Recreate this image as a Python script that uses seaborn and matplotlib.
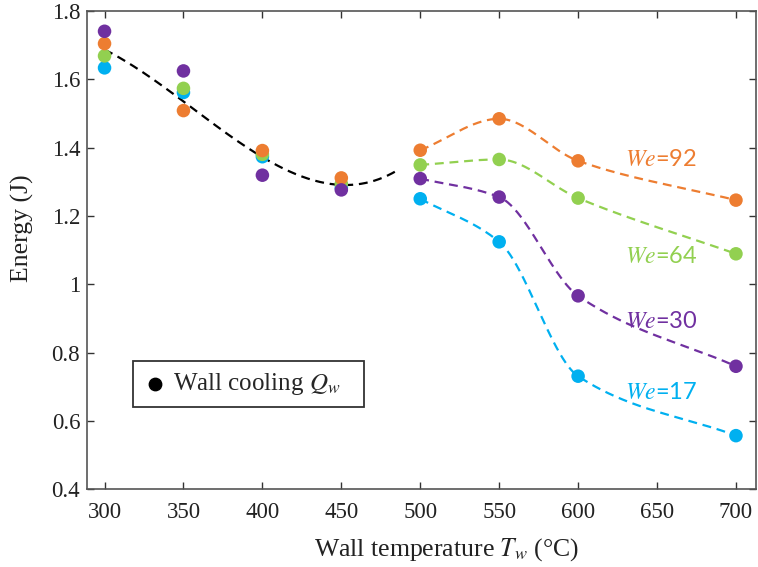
import numpy as np
import pandas as pd
import matplotlib
matplotlib.use("Agg")
import matplotlib.pyplot as plt
import seaborn as sns

# ---- data ----
temps = [300, 350, 400, 450, 500, 550, 600, 700]
we_labels = ["We=92", "We=64", "We=30", "We=17"]
we92 = [1.704, 1.508, 1.391, 1.311, 1.392, 1.484, 1.361, 1.246]
we64 = [1.668, 1.573, 1.380, 1.294, 1.349, 1.365, 1.252, 1.089]
we30 = [1.740, 1.624, 1.319, 1.276, 1.309, 1.255, 0.966, 0.760]
we17 = [1.633, 1.561, 1.373, 1.282, 1.250, 1.124, 0.731, 0.557]
# black dashed trend curve
trend_T = [300, 350, 400, 450, 487]
trend_E = [1.686, 1.536, 1.370, 1.292, 1.337]
label_y = [1.365, 1.082, 0.892, 0.683]
label_x = 630
xticks = [300, 350, 400, 450, 500, 550, 600, 650, 700]
yticks = [0.4, 0.6, 0.8, 1.0, 1.2, 1.4, 1.6, 1.8]
ytick_labels = ["0.4", "0.6", "0.8", "1", "1.2", "1.4", "1.6", "1.8"]

colors = ["#ED7D31", "#92D050", "#7030A0", "#00B0F0"]
series = [we92, we64, we30, we17]

sns.set_theme(style="white")
plt.rcParams["font.family"] = ["Liberation Serif", "DejaVu Serif"]
plt.rcParams["mathtext.fontset"] = "stix"


def pchip(x, y, xn):
    x = np.asarray(x, float); y = np.asarray(y, float)
    h = np.diff(x); d = np.diff(y) / h
    n = len(x); m = np.zeros(n)
    for k in range(1, n - 1):
        if d[k - 1] * d[k] > 0:
            w1 = 2 * h[k] + h[k - 1]; w2 = h[k] + 2 * h[k - 1]
            m[k] = (w1 + w2) / (w1 / d[k - 1] + w2 / d[k])
    m[0] = d[0]; m[-1] = d[-1]
    out = np.empty_like(xn)
    for i, xv in enumerate(xn):
        k = min(max(np.searchsorted(x, xv) - 1, 0), n - 2)
        t = (xv - x[k]) / h[k]
        h00 = 2*t**3 - 3*t**2 + 1; h10 = t**3 - 2*t**2 + t
        h01 = -2*t**3 + 3*t**2; h11 = t**3 - t**2
        out[i] = h00*y[k] + h10*h[k]*m[k] + h01*y[k+1] + h11*h[k]*m[k+1]
    return out


fig = plt.figure(figsize=(7.58, 5.67), dpi=100)
ax = fig.add_axes([0.115, 0.137, 0.883, 0.844])

dash = (0, (4, 2.6))

# black trend curve
coef = np.polyfit(trend_T, trend_E, 3)
xf = np.linspace(trend_T[0], trend_T[-1], 200)
sns.lineplot(x=xf, y=np.polyval(coef, xf), ax=ax, color="black",
             linestyle=dash, linewidth=1.6)

# coloured curves for T >= 500
hiT = temps[4:]
xs = np.linspace(500, 700, 300)
for s, c in zip(series, colors):
    sns.lineplot(x=xs, y=pchip(hiT, s[4:], xs), ax=ax, color=c,
                 linestyle=dash, linewidth=1.6)

df = pd.DataFrame({
    "T": temps * 4,
    "E": we92 + we64 + we30 + we17,
    "We": sum([[l] * len(temps) for l in we_labels], []),
})
for lab, c in zip(["We=17", "We=64", "We=92", "We=30"],
                  ["#00B0F0", "#92D050", "#ED7D31", "#7030A0"]):
    sub = df[df["We"] == lab]
    sns.scatterplot(data=sub, x="T", y="E", ax=ax, color=c, s=95,
                    edgecolor="none", zorder=3, legend=False)

for lab, ly, c in zip(we_labels, label_y, colors):
    num = lab.split("=")[1]
    ax.text(label_x, ly, r"$\it{We}$" + "=" + num, color=c, fontsize=17,
            va="center", ha="left", family=["Lato", "DejaVu Sans"])

# legend
h = ax.scatter([], [], color="black", s=80, label=r"Wall cooling $Q_w$")
leg = ax.legend(handles=[h], loc="lower left",
                bbox_to_anchor=(0.068, 0.171, 0.345, 0.1), mode="expand",
                borderaxespad=0, frameon=True, fancybox=False, fontsize=18,
                handletextpad=0.2, borderpad=0.4, handlelength=1.0)
leg.get_frame().set_edgecolor("black")
leg.get_frame().set_linewidth(1.3)

ax.set_xlim(289, 713)
ax.set_ylim(0.4, 1.8)
ax.set_xticks(xticks)
ax.set_yticks(yticks)
ax.set_yticklabels(ytick_labels)
ax.tick_params(direction="in", length=5, width=1, colors="#333333",
               labelsize=16.5, labelcolor="#222222", top=True, right=True,
               left=True, bottom=True)
ax.tick_params(axis="x", pad=9)
ax.tick_params(axis="y", pad=5)
for sp in ax.spines.values():
    sp.set_visible(True)
    sp.set_color("#555555")
    sp.set_linewidth(1.2)
ax.set_xlabel(r"Wall temperature $T_w$ (°C)", fontsize=18.5, color="#222222")
ax.xaxis.set_label_coords(0.537, -0.097)
ax.set_ylabel("Energy (J)", fontsize=18.5, color="#222222")
ax.yaxis.set_label_coords(-0.079, 0.546)

fig.savefig("out.png", dpi=100)
